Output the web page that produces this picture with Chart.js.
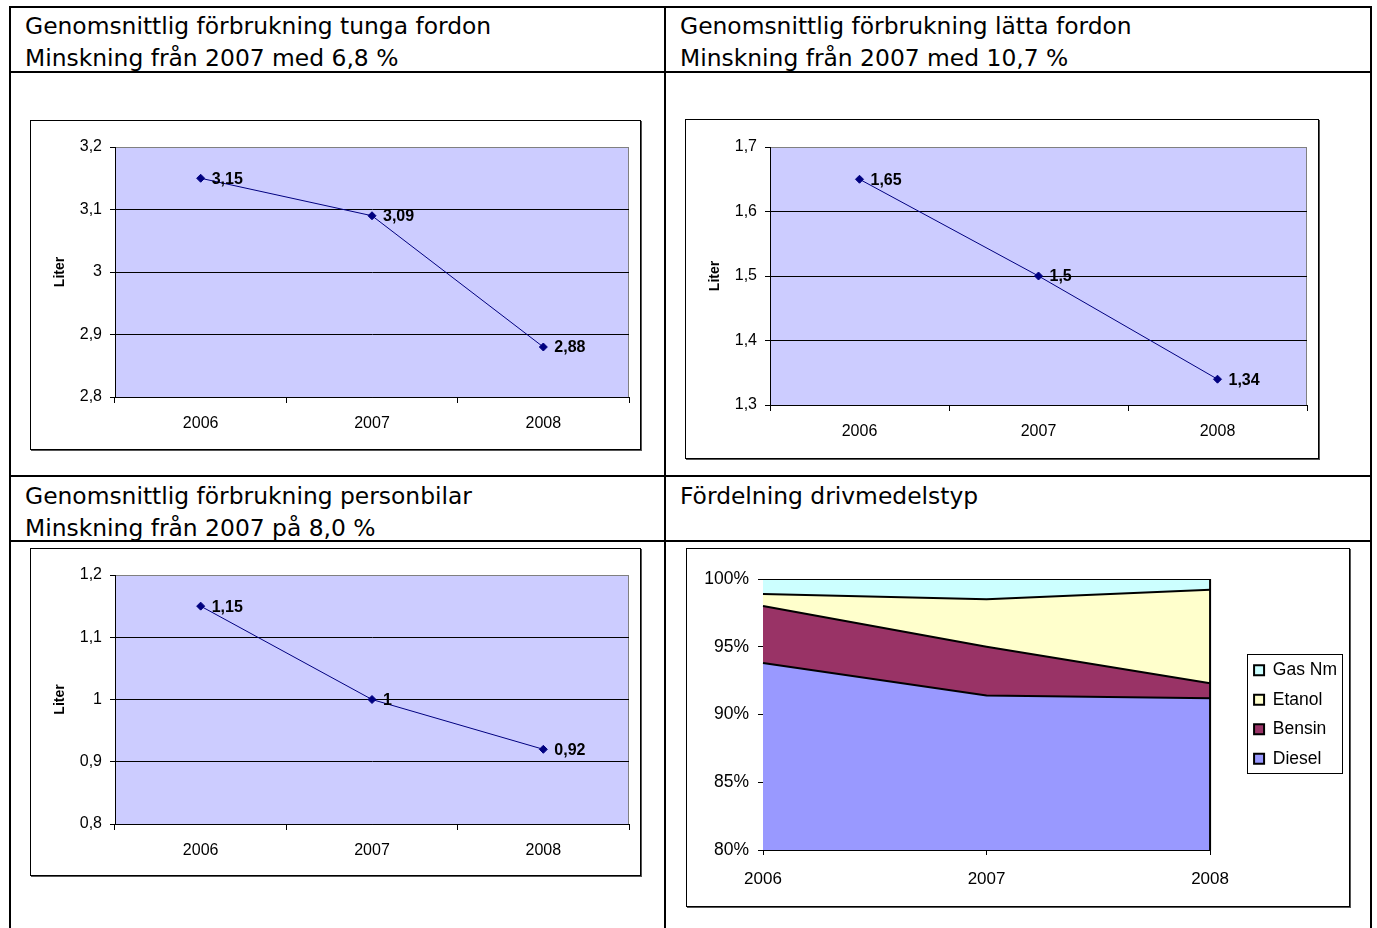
<!DOCTYPE html>
<html>
<head>
    <title>Förbrukning</title>
    <script src="https://cdn.jsdelivr.net/npm/chart.js"></script>
    <style>
        body {
            margin: 0;
            background: #fff;
            overflow: hidden;
            width: 1377px;
            height: 928px;
            position: relative;
        }

        .line {
            position: absolute;
            background: #000;
        }

        .title {
            position: absolute;
            font-family: "DejaVu Sans", Verdana, sans-serif;
            font-size: 23.4px;
            line-height: 32px;
            color: #000;
            white-space: nowrap;
        }

        .frame {
            position: absolute;
            box-sizing: border-box;
            border: 1px solid #000;
            box-shadow: 1px 1px 0 #555;
            background: #fff;
        }

        .frame div {
            position: absolute;
            left: 0;
            top: 0;
            width: 100%;
            height: 100%;
        }
    </style>
</head>
<body>
    <!-- table grid -->
    <div class="line" style="left:9px;top:6px;width:1363px;height:2px"></div>
    <div class="line" style="left:9px;top:6px;width:2px;height:922px"></div>
    <div class="line" style="left:1370px;top:6px;width:2px;height:922px"></div>
    <div class="line" style="left:664px;top:6px;width:2px;height:922px"></div>
    <div class="line" style="left:9px;top:71px;width:1363px;height:2px"></div>
    <div class="line" style="left:9px;top:475px;width:1363px;height:2px"></div>
    <div class="line" style="left:9px;top:540px;width:1363px;height:2px"></div>

    <div class="title" style="left:25px;top:10px">Genomsnittlig förbrukning tunga fordon<br>Minskning från 2007 med 6,8 %</div>
    <div class="title" style="left:680px;top:10px">Genomsnittlig förbrukning lätta fordon<br>Minskning från 2007 med 10,7 %</div>
    <div class="title" style="left:25px;top:480px">Genomsnittlig förbrukning personbilar<br>Minskning från 2007 på 8,0 %</div>
    <div class="title" style="left:680px;top:480px">Fördelning drivmedelstyp</div>

    <div class="frame" style="left:30px;top:120px;width:611px;height:330px"><div><canvas id="tungaChart"></canvas></div></div>
    <div class="frame" style="left:685px;top:119px;width:634px;height:340px"><div><canvas id="lattaChart"></canvas></div></div>
    <div class="frame" style="left:30px;top:548px;width:611px;height:328px"><div><canvas id="personChart"></canvas></div></div>
    <div class="frame" style="left:686px;top:548px;width:664px;height:359px"><div><canvas id="drivmedelChart"></canvas></div></div>

    <script>
    const years = ['2006', '2007', '2008'];

    // liter (avläst ur diagrammen)
    const tungaValues = [3.15, 3.09, 2.88];
    const lattaValues = [1.65, 1.5, 1.34];
    const personValues = [1.15, 1, 0.92];

    // y-axlarnas gränser [min, max, steg]
    const tungaAxis = [2.8, 3.2, 0.1];
    const lattaAxis = [1.3, 1.7, 0.1];
    const personAxis = [0.8, 1.2, 0.1];

    // drivmedelsfördelning i procent
    const fuelNames = ['Diesel', 'Bensin', 'Etanol', 'Gas Nm'];
    const dieselShare = [93.8, 91.4, 91.2];
    const bensinShare = [4.2, 3.6, 1.1];
    const etanolShare = [0.9, 3.5, 6.9];
    const gasShare = [1.1, 1.5, 0.8];
    const shareAxis = [80, 100, 5];

    Chart.defaults.font.family = '"Liberation Sans", Arial, sans-serif';
    Chart.defaults.color = '#000';
    Chart.defaults.animation = false;

    const comma = v => String(v).replace('.', ',');

    // lavendel bakgrund + grå ram runt plotytan
    const plotBg = {
        id: 'plotBg',
        beforeDraw(chart) {
            const a = chart.chartArea;
            const ctx = chart.ctx;
            ctx.save();
            ctx.fillStyle = '#CCCCFF';
            ctx.fillRect(a.left, a.top, a.right - a.left, a.bottom - a.top);
            ctx.strokeStyle = '#808080';
            ctx.lineWidth = 1;
            ctx.strokeRect(a.left + 0.5, a.top + 0.5, a.right - a.left - 1, a.bottom - a.top);
            ctx.restore();
        }
    };

    // värdeetiketter till höger om punkterna
    const pointLabels = {
        id: 'pointLabels',
        afterDatasetsDraw(chart) {
            const ctx = chart.ctx;
            const meta = chart.getDatasetMeta(0);
            const values = chart.data.datasets[0].data;
            ctx.save();
            ctx.font = 'bold 16px "Liberation Sans", Arial, sans-serif';
            ctx.fillStyle = '#000';
            ctx.textAlign = 'left';
            ctx.textBaseline = 'middle';
            meta.data.forEach((pt, i) => {
                ctx.fillText(comma(values[i]), pt.x + 11, pt.y + 1);
            });
            ctx.restore();
        }
    };

    function literChart(canvasId, values, axis, padTop, bottomSpace) {
        return new Chart(document.getElementById(canvasId), {
            type: 'line',
            data: {
                labels: years,
                datasets: [{
                    data: values,
                    borderColor: '#000080',
                    borderWidth: 1,
                    pointStyle: 'rectRot',
                    pointRadius: 4,
                    pointBackgroundColor: '#000080',
                    pointBorderColor: '#000080',
                    tension: 0
                }]
            },
            options: {
                responsive: true,
                maintainAspectRatio: false,
                layout: {
                    padding: { left: 17, top: padTop, right: 11, bottom: 0 }
                },
                plugins: {
                    legend: { display: false },
                    tooltip: { enabled: false }
                },
                scales: {
                    x: {
                        offset: true,
                        grid: {
                            offset: true,
                            drawOnChartArea: false,
                            tickLength: 6,
                            tickColor: '#000'
                        },
                        border: { color: '#000' },
                        ticks: { font: { size: 16 }, padding: 11 },
                        afterFit: s => { s.height = bottomSpace; }
                    },
                    y: {
                        min: axis[0],
                        max: axis[1],
                        ticks: {
                            stepSize: axis[2],
                            font: { size: 16 },
                            padding: 8,
                            callback: v => comma(Math.round(v * 10) / 10)
                        },
                        grid: {
                            color: c => (c.tick && c.tick.value >= axis[1] - 1e-9) ? '#808080' : '#000',
                            tickColor: '#000',
                            tickLength: 5
                        },
                        border: { color: '#000' },
                        title: {
                            display: true,
                            text: 'Liter',
                            font: { size: 14, weight: 'bold' }
                        },
                        afterFit: s => { s.width = 67; }
                    }
                }
            },
            plugins: [plotBg, pointLabels]
        });
    }

    literChart('tungaChart', tungaValues, tungaAxis, 26, 52);
    literChart('lattaChart', lattaValues, lattaAxis, 27, 53);
    literChart('personChart', personValues, personAxis, 26, 51);

    // ram runt legenden och svart kant till höger om ytdiagrammet
    const legendBox = {
        id: 'legendBox',
        afterDraw(chart) {
            const boxes = chart.legend.legendHitBoxes;
            if (!boxes || !boxes.length) return;
            const ctx = chart.ctx;
            const l = Math.min(...boxes.map(b => b.left)) - 7;
            const r = Math.max(...boxes.map(b => b.left + b.width)) + 5;
            const t = Math.min(...boxes.map(b => b.top)) - 8;
            const btm = Math.max(...boxes.map(b => b.top + b.height)) + 5;
            ctx.save();
            ctx.strokeStyle = '#000';
            ctx.lineWidth = 1;
            ctx.strokeRect(Math.round(l) + 0.5, Math.round(t) + 0.5, Math.round(r - l), Math.round(btm - t));
            const a = chart.chartArea;
            ctx.lineWidth = 2;
            ctx.beginPath();
            ctx.moveTo(a.right, a.top);
            ctx.lineTo(a.right, a.bottom);
            ctx.stroke();
            ctx.restore();
        }
    };

    const fuelShares = [dieselShare, bensinShare, etanolShare, gasShare];
    const fuelColors = ['#9999FF', '#993366', '#FFFFCC', '#CCFFFF'];

    new Chart(document.getElementById('drivmedelChart'), {
        type: 'line',
        data: {
            labels: years,
            datasets: fuelNames.map((name, i) => ({
                label: name,
                data: fuelShares[i],
                backgroundColor: fuelColors[i],
                borderColor: '#000',
                borderWidth: 2,
                pointRadius: 0,
                tension: 0,
                fill: i === 0 ? 'start' : '-1'
            }))
        },
        options: {
            responsive: true,
            maintainAspectRatio: false,
            layout: {
                padding: { left: 0, top: 30, right: 2, bottom: 0 }
            },
            plugins: {
                legend: {
                    position: 'right',
                    fullSize: false,
                    reverse: true,
                    labels: {
                        boxWidth: 10,
                        boxHeight: 10,
                        padding: 12,
                        color: '#000',
                        font: { size: 17.5 }
                    }
                },
                tooltip: { enabled: false }
            },
            scales: {
                x: {
                    offset: false,
                    grid: {
                        drawOnChartArea: false,
                        tickLength: 5,
                        tickColor: '#000'
                    },
                    border: { color: '#000' },
                    ticks: { font: { size: 17 }, padding: 14 },
                    afterFit: s => { s.height = 56; }
                },
                y: {
                    stacked: true,
                    min: shareAxis[0],
                    max: shareAxis[1],
                    ticks: {
                        stepSize: shareAxis[2],
                        font: { size: 17.5 },
                        padding: 9,
                        callback: v => v + '%'
                    },
                    grid: {
                        drawOnChartArea: false,
                        tickLength: 5,
                        tickColor: '#000'
                    },
                    border: { color: '#000' },
                    afterFit: s => { s.width = 76; }
                },
                gap: {
                    type: 'linear',
                    position: 'right',
                    grid: { display: false },
                    border: { display: false },
                    ticks: { display: false },
                    afterFit: s => { s.width = 32; }
                }
            }
        },
        plugins: [legendBox]
    });
    </script>
</body>
</html>
